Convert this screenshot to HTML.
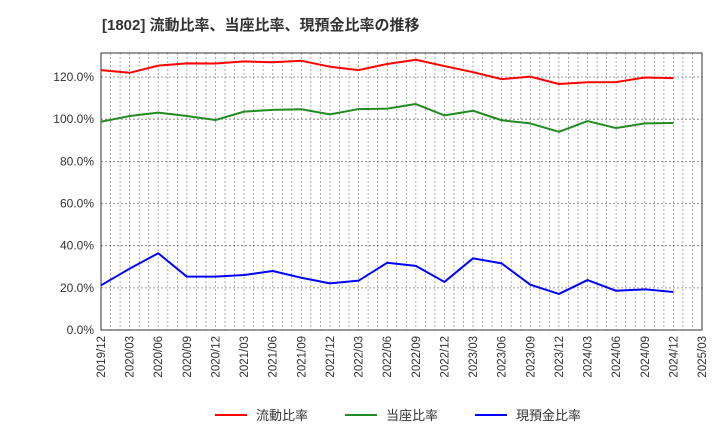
<!DOCTYPE html>
<html><head><meta charset="utf-8"><style>
body{margin:0;background:#fff;width:720px;height:440px;overflow:hidden}
svg{font-family:"Liberation Sans","Noto Sans CJK JP",sans-serif}
</style></head><body>
<svg id="chart" width="720" height="440" xmlns="http://www.w3.org/2000/svg">
<text x="102" y="30" font-size="15" font-weight="bold" fill="#333">[1802]  流動比率、当座比率、現預金比率の推移</text>
<g id="grid"></g><g id="axes"></g><g id="series"></g>
<g>
<g><line x1="215" y1="415" x2="247" y2="415" stroke="#ff0000" stroke-width="2"/><text x="256" y="420" font-size="13" fill="#333">流動比率</text></g>
<g><line x1="345" y1="415" x2="377" y2="415" stroke="#228b22" stroke-width="2"/><text x="386" y="420" font-size="13" fill="#333">当座比率</text></g>
<g><line x1="475" y1="415" x2="507" y2="415" stroke="#0000ff" stroke-width="2"/><text x="516" y="420" font-size="13" fill="#333">現預金比率</text></g>
</g>
</svg>
<script>
const categories=["2019/12","2020/03","2020/06","2020/09","2020/12","2021/03","2021/06","2021/09","2021/12","2022/03","2022/06","2022/09","2022/12","2023/03","2023/06","2023/09","2023/12","2024/03","2024/06","2024/09","2024/12"];
const tickLabels=["2019/12","2020/03","2020/06","2020/09","2020/12","2021/03","2021/06","2021/09","2021/12","2022/03","2022/06","2022/09","2022/12","2023/03","2023/06","2023/09","2023/12","2024/03","2024/06","2024/09","2024/12","2025/03"];
const currentRatio=[123.3,122.0,125.4,126.5,126.4,127.4,127.0,127.7,124.9,123.3,126.2,128.2,125.2,122.3,119.0,120.2,116.7,117.5,117.6,119.8,119.5];
const quickRatio=[98.8,101.5,103.1,101.5,99.6,103.6,104.4,104.7,102.3,104.8,105.0,107.2,101.8,104.0,99.5,98.0,94.0,99.1,95.8,98.0,98.2];
const cashRatio=[21.2,29.1,36.4,25.3,25.3,26.1,28.0,24.8,22.1,23.4,31.9,30.4,22.8,34.0,31.6,21.5,17.1,23.7,18.6,19.3,18.0];
const yTicks=[0,20,40,60,80,100,120];
const L=101,R=702,T=53,B=330,yMax=131.4;
const NS="http://www.w3.org/2000/svg";
const x=i=>L+i*(R-L)/21;
const y=v=>B-v*(B-T)/yMax;
function mk(tag,attrs,parent){const e=document.createElementNS(NS,tag);for(const k in attrs)e.setAttribute(k,attrs[k]);parent.appendChild(e);return e;}
const grid=document.getElementById('grid'),axes=document.getElementById('axes'),ser=document.getElementById('series');
for(let m=1;m<63;m++){const xx=L+m*(R-L)/63;
const g=mk('line',{x1:xx,x2:xx,y1:T,y2:B,stroke:'#999','stroke-width':0.8,'stroke-dasharray':'2,2'},grid);

}
yTicks.forEach(v=>{const yy=y(v);
if(v>0){const g=mk('line',{x1:L,x2:R,y1:yy,y2:yy,stroke:'#777','stroke-width':0.8,'stroke-dasharray':'2,2'},grid);

}
const t=mk('text',{x:L-7,y:yy+4,'text-anchor':'end','font-size':12,fill:'#333'},axes);t.textContent=v.toFixed(1)+'%';

});
const fr=mk('rect',{x:L,y:T,width:R-L,height:B-T,fill:'none',stroke:'#333','stroke-width':1},axes);


tickLabels.forEach((lb,i)=>{const xx=x(i);
const t=mk('text',{x:0,y:0,'text-anchor':'end','font-size':11.5,fill:'#333',transform:`translate(${xx+4},${B+6}) rotate(-90)`},axes);t.textContent=lb;

});
[[currentRatio,'#ff0000','line-current-ratio'],[quickRatio,'#228b22','line-quick-ratio'],[cashRatio,'#0000ff','line-cash-ratio']].forEach(([d,c,n])=>{
const p=mk('polyline',{points:d.map((v,i)=>x(i)+','+y(v)).join(' '),fill:'none',stroke:c,'stroke-width':2,'stroke-linejoin':'round'},ser);

});
</script>
</body></html>
